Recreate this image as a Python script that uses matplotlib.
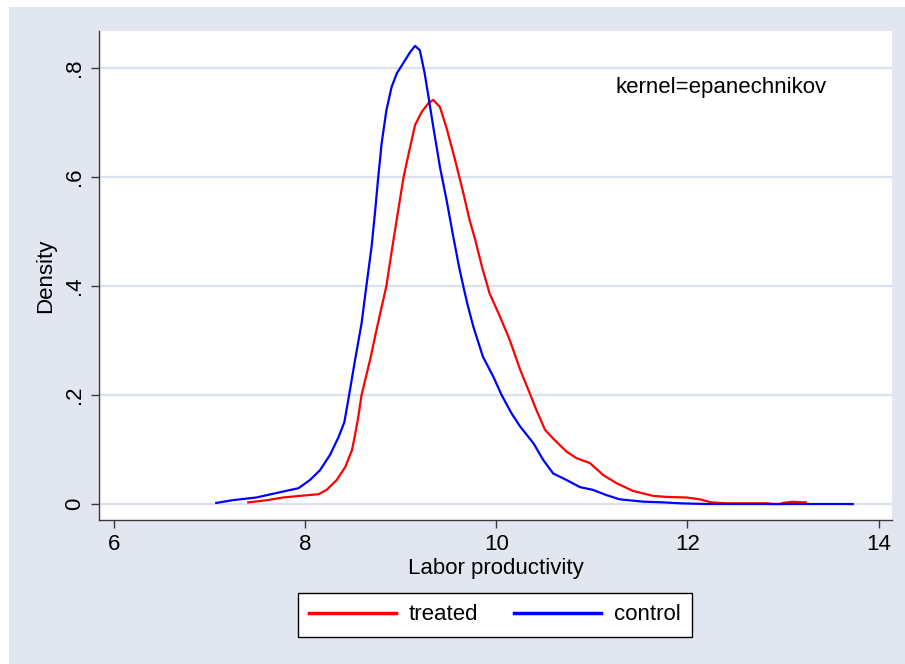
import matplotlib
matplotlib.use("Agg")
import matplotlib.pyplot as plt
from matplotlib.patches import Rectangle

plt.rcParams['font.family'] = ['Liberation Sans', 'DejaVu Sans']

# kernel density estimates
treated_x = [7.405, 7.60, 7.77, 7.95, 8.14, 8.225, 8.33, 8.42, 8.49, 8.52, 8.556,
             8.59, 8.68, 8.76, 8.85, 8.92, 9.03, 9.08, 9.15, 9.22,
             9.29, 9.34, 9.41, 9.48, 9.57, 9.655, 9.72, 9.78,
             9.85, 9.93, 10.04, 10.14, 10.25, 10.35, 10.42, 10.51, 10.595,
             10.735, 10.84, 10.98, 11.12, 11.26, 11.43, 11.64, 11.78, 11.99,
             12.13, 12.25, 12.41, 12.83, 12.90, 12.97, 13.0, 13.09, 13.24]
treated_y = [0.003, 0.007, 0.012, 0.015, 0.018, 0.026, 0.044, 0.068, 0.099, 0.125, 0.160,
             0.200, 0.265, 0.330, 0.400, 0.480, 0.600, 0.640, 0.695, 0.719,
             0.735, 0.741, 0.728, 0.689, 0.630, 0.570, 0.521, 0.484,
             0.435, 0.386, 0.343, 0.301, 0.246, 0.203, 0.172, 0.136, 0.120,
             0.096, 0.084, 0.075, 0.053, 0.038, 0.024, 0.015, 0.013, 0.012,
             0.0086, 0.003, 0.0013, 0.0013, 0.0, 0.0, 0.002, 0.004, 0.003]

control_x = [7.07, 7.24, 7.49, 7.72, 7.93, 8.05, 8.155, 8.26, 8.35, 8.41, 8.46,
             8.52, 8.59, 8.64, 8.695, 8.73, 8.765, 8.80, 8.85, 8.905, 8.96, 9.025,
             9.10, 9.15, 9.20, 9.25, 9.29, 9.34, 9.41, 9.48, 9.55, 9.61, 9.66,
             9.70, 9.76, 9.86, 9.97, 10.055, 10.16, 10.25, 10.39, 10.49, 10.595,
             10.735, 10.875, 11.01, 11.15, 11.29, 11.54, 11.75, 11.92, 12.2,
             12.6, 13.0, 13.4, 13.73]
control_y = [0.002, 0.007, 0.012, 0.021, 0.029, 0.044, 0.062, 0.090, 0.123, 0.150, 0.200,
             0.262, 0.331, 0.399, 0.472, 0.533, 0.600, 0.661, 0.722, 0.765, 0.790, 0.808,
             0.829, 0.840, 0.832, 0.790, 0.747, 0.692, 0.618, 0.557, 0.490, 0.435, 0.395,
             0.365, 0.325, 0.270, 0.233, 0.200, 0.166, 0.142, 0.111, 0.081, 0.056,
             0.044, 0.031, 0.026, 0.0165, 0.0086, 0.0043, 0.003, 0.0013, 0.0,
             0.0, 0.0, 0.0, 0.0]

x_ticks = [6, 8, 10, 12, 14]
y_ticks = [0, 0.2, 0.4, 0.6, 0.8]
y_ticklabels = ["0", ".2", ".4", ".6", ".8"]

bg = "#E2E6F0"
grid_col = "#DCE1EE"
axis_col = "#3A3A3A"

fig = plt.figure(figsize=(9.05, 6.64), dpi=100)
fig.patch.set_facecolor("white")
fig.patches.append(Rectangle((9 / 905, 0), 896 / 905, 657 / 664,
                             transform=fig.transFigure, facecolor=bg,
                             edgecolor="none", zorder=-10))

ax = fig.add_axes([99 / 905, 144 / 664, 793 / 905, 489 / 664])
ax.set_facecolor("white")

ax.plot(treated_x, treated_y, color="#FF0000", lw=1.6, label="treated")
ax.plot(control_x, control_y, color="#0000FF", lw=1.6, label="control")

ax.set_xlim(5.843, 14.14)
ax.set_ylim(-0.0293, 0.8673)
ax.set_xticks(x_ticks)
ax.set_yticks(y_ticks)
ax.set_yticklabels(y_ticklabels, rotation=90, va="center")

for y in y_ticks:
    ax.axhline(y, color=grid_col, lw=1.6, zorder=0)

for s in ["top", "right"]:
    ax.spines[s].set_visible(False)
for s in ["left", "bottom"]:
    ax.spines[s].set_color(axis_col)
    ax.spines[s].set_linewidth(1.0)

ax.tick_params(direction="out", length=6, width=1, color=axis_col,
               labelsize=16, labelcolor="black", pad=4)

ax.set_xlabel("Labor productivity", fontsize=16, labelpad=2)
ax.set_ylabel("Density", fontsize=16, labelpad=6)

ax.text(0.651, 0.873, "kernel=epanechnikov", transform=ax.transAxes,
        fontsize=16, va="baseline", ha="left")

leg = fig.legend(loc="center", bbox_to_anchor=(495 / 905, 49 / 664), ncol=2,
                 fontsize=16, frameon=True, fancybox=False, framealpha=1,
                 edgecolor="black", handlelength=3.9, handletextpad=0.6,
                 columnspacing=1.6, borderpad=0.5)
leg.get_frame().set_linewidth(1.0)
for line in leg.get_lines():
    line.set_linewidth(2.5)

fig.savefig("out.png", dpi=100, facecolor=fig.get_facecolor())
